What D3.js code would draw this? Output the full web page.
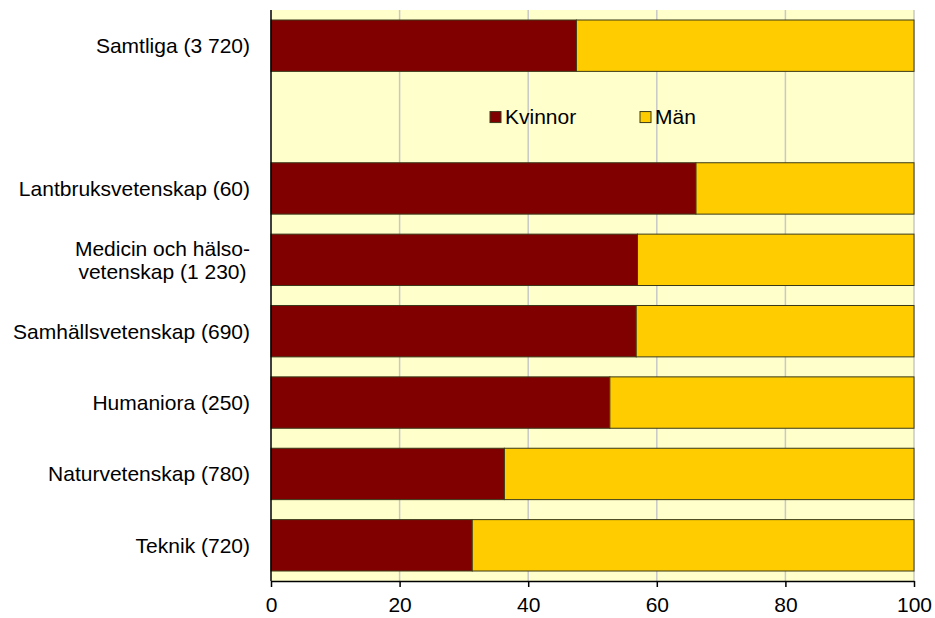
<!DOCTYPE html>
<html>
<head>
<meta charset="utf-8">
<script src="https://cdn.jsdelivr.net/npm/d3@7"></script>
<style>
  html, body { margin: 0; padding: 0; background: #ffffff; }
  svg { display: block; font-family: "Liberation Sans", Arial, sans-serif; }
</style>
</head>
<body>
<svg id="chart" width="935" height="618"></svg>
<script>
const categories = [
  "Samtliga (3 720)",
  "",
  "Lantbruksvetenskap (60)",
  "Medicin och hälso-\nvetenskap (1 230)",
  "Samhällsvetenskap (690)",
  "Humaniora (250)",
  "Naturvetenskap (780)",
  "Teknik (720)"
];
const kvinnor = [47.5, null, 66.1, 57.0, 56.8, 52.7, 36.3, 31.3];
const man     = [52.5, null, 33.9, 43.0, 43.2, 47.3, 63.7, 68.7];
const seriesNames = ["Kvinnor", "Män"];
const seriesColors = ["#800000", "#ffcc00"];
const xTicks = [0, 20, 40, 60, 80, 100];

(function () {
const svg = d3.select("#chart");
const pLeft = 271, pRight = 914, pTop = 10, pBottom = 581;
const fs = 21;

const x = d3.scaleLinear().domain([0, 100]).range([pLeft, pRight]);
const y = d3.scaleBand().domain(d3.range(categories.length)).range([pTop, pBottom])
  .paddingInner(0.28).paddingOuter(0.14);

svg.append("rect").attr("x", pLeft).attr("y", pTop).attr("width", pRight - pLeft).attr("height", pBottom - pTop)
  .attr("fill", "#ffffcc");

svg.append("g").selectAll("line").data(xTicks.filter(t => t > 0)).join("line")
  .attr("x1", d => x(d)).attr("x2", d => x(d)).attr("y1", pTop).attr("y2", pBottom)
  .attr("stroke", "#c8c8c8").attr("stroke-width", 1.5);

const rows = categories.map((c, i) => ({ i, k: kvinnor[i], m: man[i] })).filter(d => d.k != null);
const g = svg.append("g");
g.selectAll("rect.k").data(rows).join("rect").attr("class", "k")
  .attr("x", x(0)).attr("y", d => y(d.i)).attr("width", d => x(d.k) - x(0)).attr("height", y.bandwidth())
  .attr("fill", seriesColors[0]).attr("stroke", "#3a3a1a").attr("stroke-width", 1);
g.selectAll("rect.m").data(rows).join("rect").attr("class", "m")
  .attr("x", d => x(d.k)).attr("y", d => y(d.i)).attr("width", d => x(d.k + d.m) - x(d.k)).attr("height", y.bandwidth())
  .attr("fill", seriesColors[1]).attr("stroke", "#3a3a1a").attr("stroke-width", 1);

svg.append("line").attr("x1", pLeft).attr("x2", pLeft).attr("y1", pTop).attr("y2", pBottom)
  .attr("stroke", "#000").attr("stroke-width", 1.5);

const xAxis = d3.axisBottom(x).tickValues(xTicks).tickSize(6).tickSizeOuter(0).tickPadding(10);
const ax = svg.append("g").attr("transform", `translate(0,${pBottom})`).call(xAxis);
ax.select(".domain").attr("stroke", "#000").attr("stroke-width", 1.5);
ax.selectAll(".tick line").attr("stroke", "#000").attr("stroke-width", 1.5);
ax.selectAll(".tick text").attr("font-size", fs).attr("fill", "#000")
  .attr("font-family", "Liberation Sans, Arial, sans-serif");

const labelRight = pLeft - 21;
categories.forEach((c, i) => {
  if (!c) return;
  const lines = c.split("\n");
  const cy = y(i) + y.bandwidth() / 2;
  const lh = 23;
  const t = svg.append("text").attr("font-size", fs).attr("fill", "#000");
  const spans = lines.map((l, j) => t.append("tspan").text(l)
    .attr("y", cy + (j - (lines.length - 1) / 2) * lh).attr("dy", "0.35em"));
  if (lines.length === 1) {
    t.attr("text-anchor", "end");
    spans[0].attr("x", labelRight);
  } else {
    t.attr("text-anchor", "middle");
    const maxW = d3.max(spans, s => s.node().getComputedTextLength());
    spans.forEach(s => s.attr("x", labelRight - maxW / 2));
  }
});

const legY = y(1) + y.bandwidth() / 2;
const legX = [490, 640];
seriesNames.forEach((n, i) => {
  svg.append("rect").attr("x", legX[i]).attr("y", legY - 5.5).attr("width", 11).attr("height", 11)
    .attr("fill", seriesColors[i]).attr("stroke", "#3a3a1a").attr("stroke-width", 1);
  svg.append("text").attr("x", legX[i] + 15).attr("y", legY).attr("dy", "0.35em")
    .attr("font-size", fs).attr("fill", "#000").text(n);
});
})();
</script>
</body>
</html>
